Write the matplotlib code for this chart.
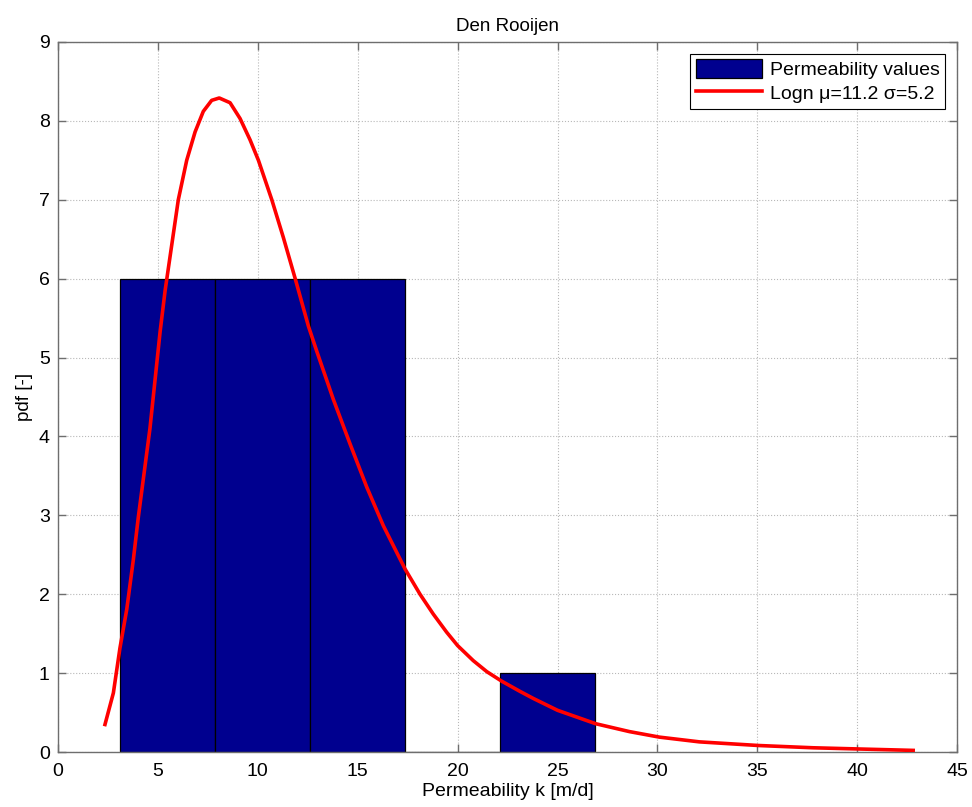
"""Histogram of permeability values with fitted lognormal pdf (Den Rooijen)."""

import numpy as np
from matplotlib import pyplot as plt

# histogram bins and counts
bin_edges = [3.10, 7.86, 12.62, 17.38, 22.14, 26.90]
counts = [6, 6, 6, 0, 1]

# fitted lognormal curve
curve_k = [2.35, 2.77, 3.10, 3.44, 3.77, 4.02, 4.60, 5.11, 5.36, 6.02,
           6.44, 6.86, 7.27, 7.69, 8.07, 8.61, 9.11, 9.61, 10.03, 10.70,
           11.28, 11.86, 12.53, 12.95, 13.78, 14.61, 15.45, 16.28, 17.37,
           18.12, 18.78, 19.45, 20.00, 20.78, 21.46, 22.20, 23.12, 23.79,
           25.00, 26.91, 28.60, 30.10, 32.10, 35.05, 37.80, 40.05, 42.80]
curve_pdf = [0.35, 0.75, 1.32, 1.81, 2.44, 2.98, 4.10, 5.33, 5.85, 7.00,
             7.50, 7.86, 8.12, 8.26, 8.29, 8.23, 8.03, 7.76, 7.50, 7.00,
             6.52, 6.01, 5.40, 5.08, 4.47, 3.91, 3.36, 2.87, 2.32,
             2.00, 1.75, 1.52, 1.35, 1.16, 1.02, 0.90, 0.77, 0.68,
             0.53, 0.36, 0.26, 0.19, 0.13, 0.084, 0.055, 0.040, 0.022]

TITLE = "Den Rooijen"
XLABEL = "Permeability k [m/d]"
YLABEL = "pdf [-]"
LEGEND = ["Permeability values", "Logn \u03bc=11.2 \u03c3=5.2"]

plt.rcParams["font.family"] = ["Liberation Sans", "DejaVu Sans"]

fig = plt.figure(figsize=(9.72, 8.07), dpi=100)
ax = fig.add_axes([0.0597, 0.068, 0.925, 0.880])

edges = np.array(bin_edges)
bars = ax.bar(edges[:-1], counts, width=np.diff(edges), align="edge",
              color="#00008f", edgecolor="black", linewidth=0.9, zorder=2)
(line,) = ax.plot(curve_k, curve_pdf, color="red", linewidth=2.6, zorder=3)

ax.set_xlim(0, 45)
ax.set_ylim(0, 9)
ax.set_xticks(np.arange(0, 46, 5))
ax.set_yticks(np.arange(0, 10, 1))

ax.set_axisbelow(True)
ax.grid(True, linestyle=":", color="#b8b8b8", linewidth=0.8)
for spine in ax.spines.values():
    spine.set_color("#6e6e6e")
    spine.set_linewidth(1.0)
ax.tick_params(direction="in", top=True, right=True, length=6,
               width=1.0, color="#6e6e6e", labelsize=14)
ax.tick_params(axis="x", pad=8)
ax.tick_params(axis="y", pad=6)

ax.set_title(TITLE, fontsize=13.5, pad=8)
ax.set_xlabel(XLABEL, fontsize=14, labelpad=2)
ax.set_ylabel(YLABEL, fontsize=13.5, labelpad=4)

leg = ax.legend([bars, line], LEGEND, loc="upper right", fontsize=14,
                fancybox=False, framealpha=1, edgecolor="black",
                handlelength=3.4, handleheight=1.1, borderaxespad=0.6,
                borderpad=0.3, labelspacing=0.2, handletextpad=0.4)
leg.get_frame().set_linewidth(0.8)

plt.savefig("out.png", dpi=100)
plt.close()
